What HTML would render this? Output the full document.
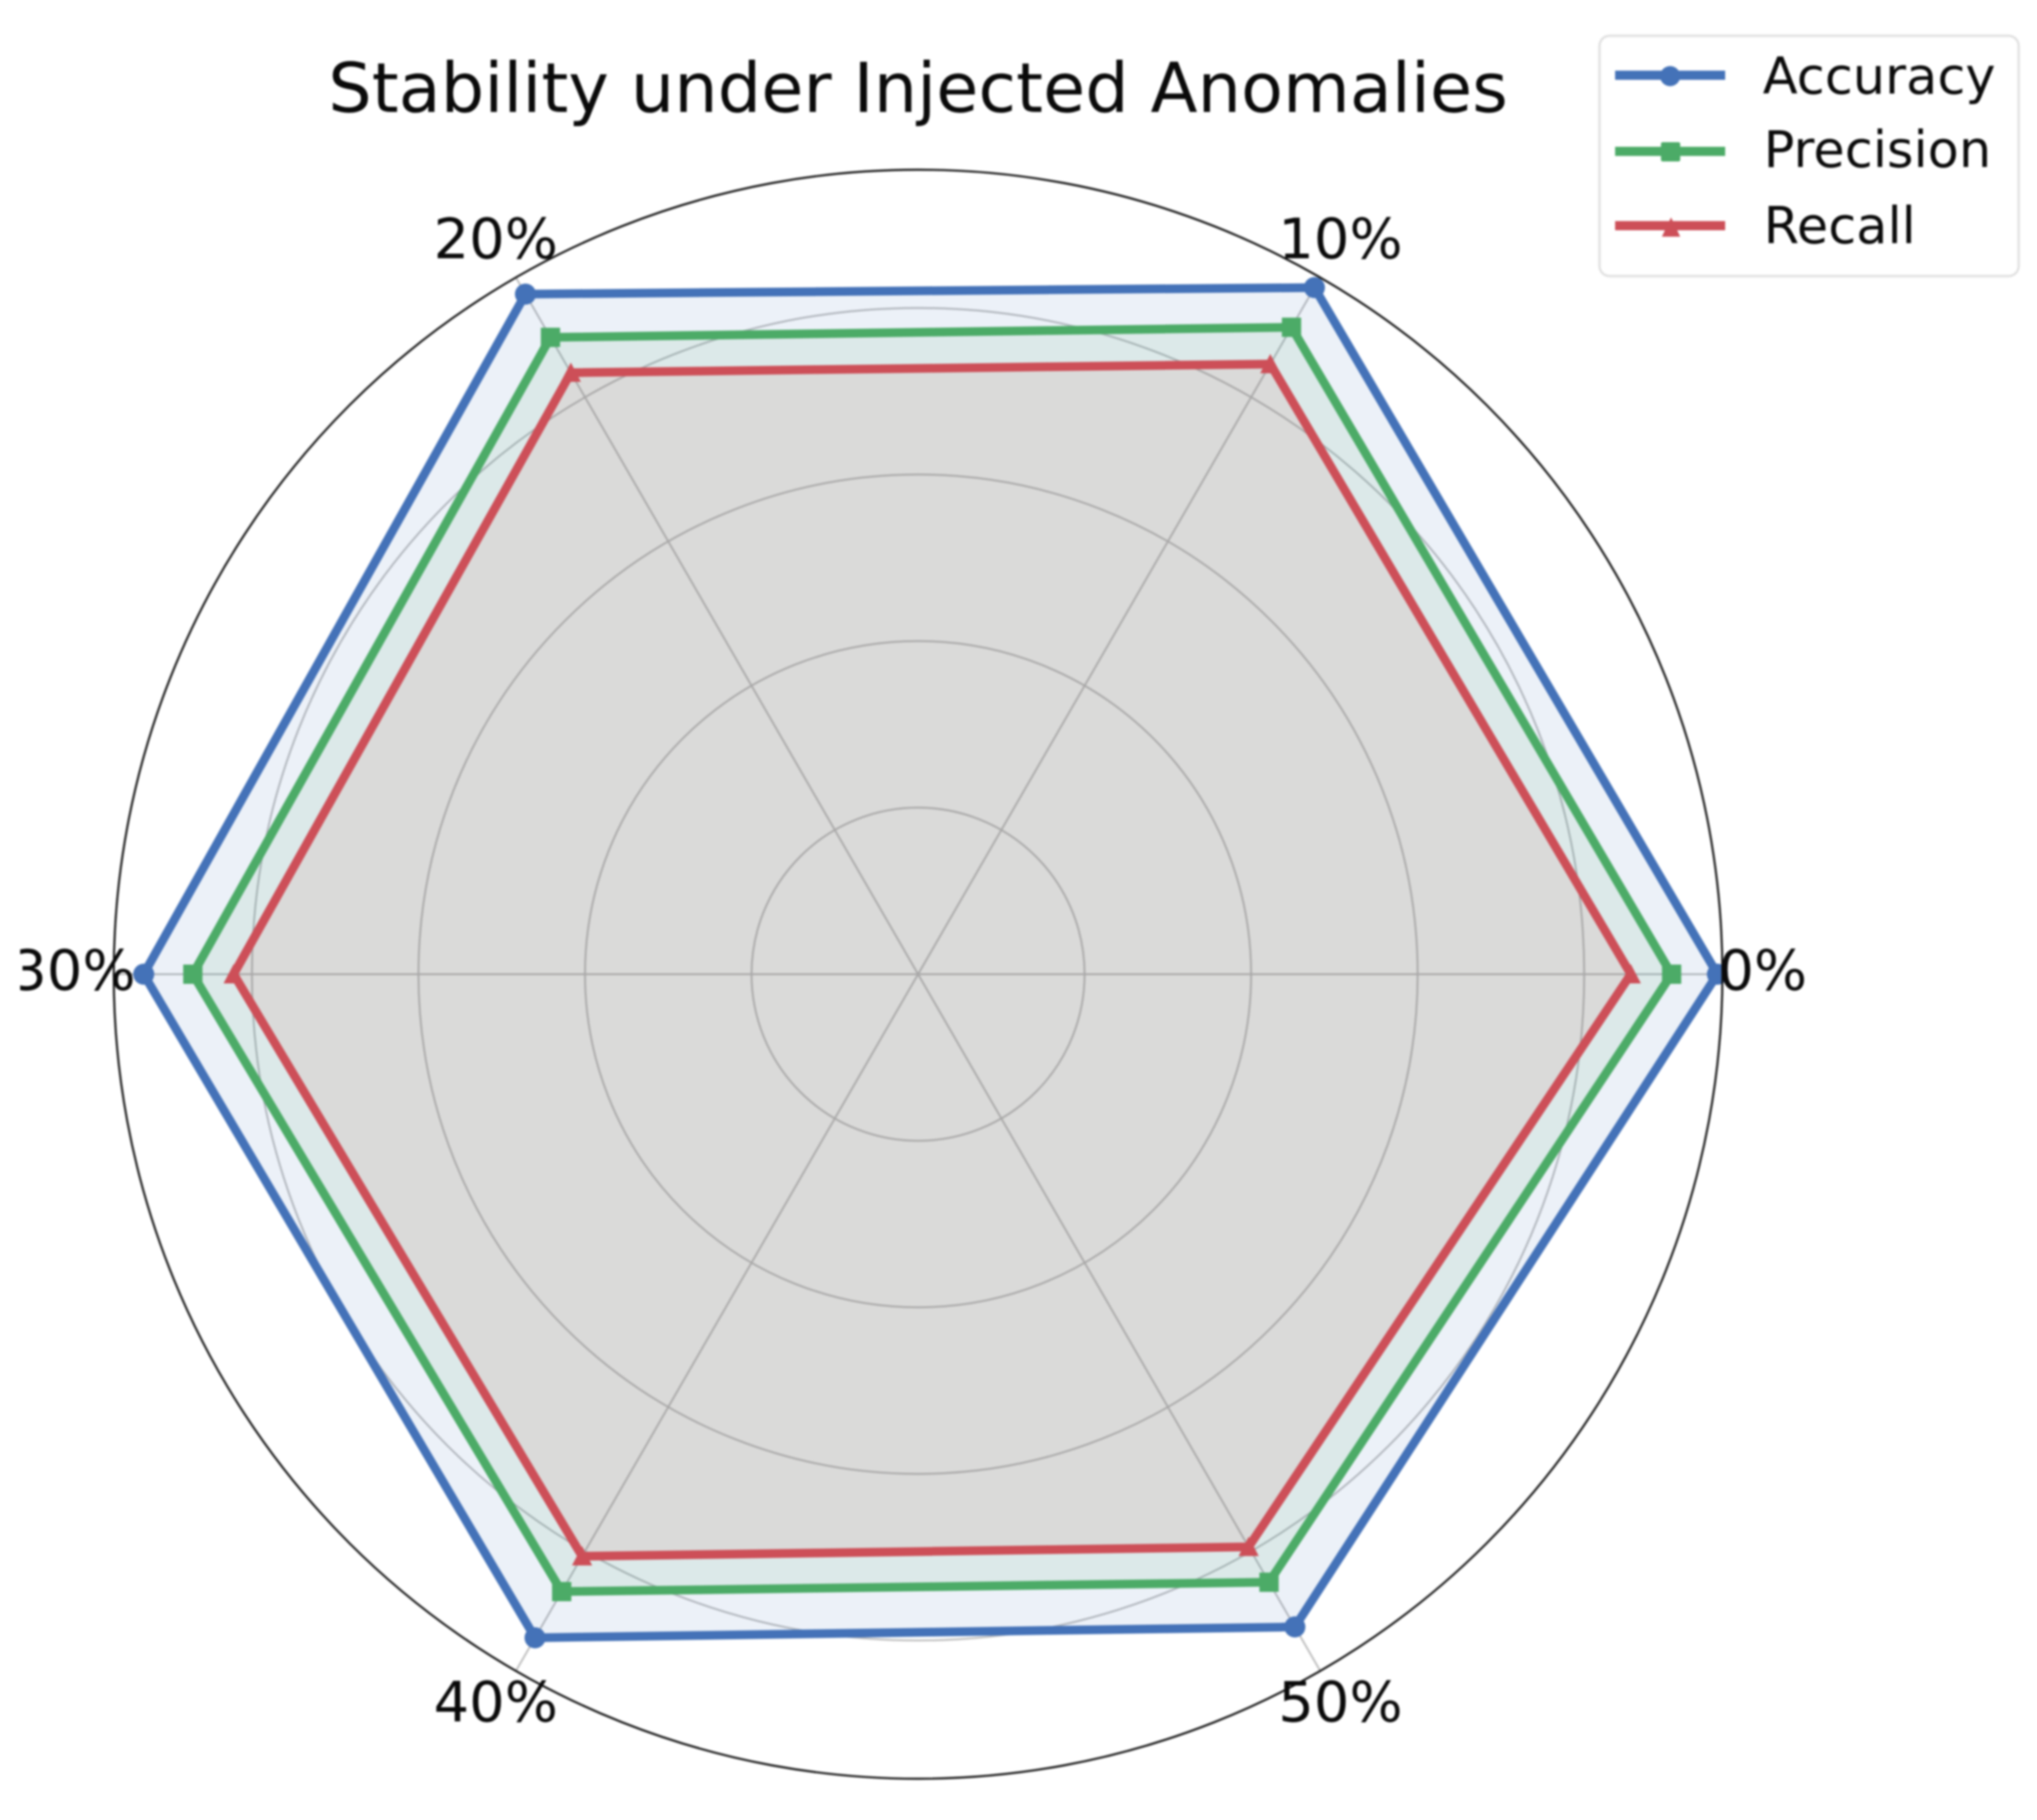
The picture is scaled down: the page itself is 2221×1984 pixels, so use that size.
<!DOCTYPE html>
<html>
<head>
<meta charset="utf-8">
<title>Stability under Injected Anomalies</title>
<style>
html,body{margin:0;padding:0;background:#fff;}
svg{display:block;filter:blur(0.95px);}
text{font-family:"DejaVu Sans",sans-serif;fill:#0a0a0a;}
</style>
</head>
<body>
<svg id="chart" xmlns="http://www.w3.org/2000/svg" width="2221" height="1984" viewBox="0 0 2221 1984">
  <rect width="2221" height="1984" fill="#fff"/>
  <g id="grid"></g>
  <g id="series"></g>
  <circle cx="1001" cy="1062" r="877" fill="none" stroke="#111" stroke-width="2.2"/>
  <g id="labels"></g>
  <rect x="0" y="1000" width="22" height="120" fill="#fff"/>
  <text x="1001" y="122" text-anchor="middle" font-size="74.8">Stability under Injected Anomalies</text>
  <g>
    <rect x="1744" y="39" width="457" height="262" rx="11" fill="#fff" stroke="#e0e0e0" stroke-width="2.5"/>
    <g>
      <line x1="1761" x2="1881" y1="82" y2="82" stroke="#4472b8" stroke-width="10"/>
      <circle cx="1821" cy="83" r="11" fill="#4472b8"/>
      <text x="1922" y="102" font-size="55.6">Accuracy</text>
    </g>
    <g>
      <line x1="1761" x2="1881" y1="165" y2="165" stroke="#4cab67" stroke-width="10"/>
      <rect x="1811" y="155" width="21" height="21" rx="2" fill="#4cab67"/>
      <text x="1923" y="182" font-size="55.6">Precision</text>
    </g>
    <g>
      <line x1="1761" x2="1881" y1="246" y2="246" stroke="#cd4f58" stroke-width="10"/>
      <polygon points="1822,237 1832,258 1812,258" fill="#cd4f58"/>
      <text x="1923" y="265" font-size="55.6">Recall</text>
    </g>
  </g>
</svg>
<script>
const categories = ['0%', '10%', '20%', '30%', '40%', '50%'];
const radialTicks = [0.2, 0.4, 0.6, 0.8];
const accuracyValues = [0.960, 0.952, 0.943, 0.930, 0.920, 0.905];
const precisionValues = [0.905, 0.897, 0.883, 0.871, 0.856, 0.843];
const recallValues = [0.856, 0.846, 0.834, 0.822, 0.807, 0.794];

const NS = 'http://www.w3.org/2000/svg';
const cx = 1001, cy = 1062, outerR = 877, rMax = 0.966, labelR = 921;

function rScale(v) { return v / rMax * outerR; }
function thetaScale(i) { return i * 2 * Math.PI / categories.length; }
function px(i, v) { return cx + rScale(v) * Math.cos(thetaScale(i)); }
function py(i, v) { return cy - rScale(v) * Math.sin(thetaScale(i)); }

const gridG = document.getElementById('grid');
radialTicks.forEach(function (t) {
  const c = document.createElementNS(NS, 'circle');
  
  
  c.setAttribute('cx', cx);
  c.setAttribute('cy', cy);
  c.setAttribute('r', rScale(t));
  c.setAttribute('fill', 'none');
  c.setAttribute('stroke', '#bcbcbc');
  c.setAttribute('stroke-width', '2');
  gridG.appendChild(c);
});
categories.forEach(function (cat, i) {
  const l = document.createElementNS(NS, 'line');
  
  
  l.setAttribute('x1', cx);
  l.setAttribute('y1', cy);
  l.setAttribute('x2', px(i, rMax));
  l.setAttribute('y2', py(i, rMax));
  l.setAttribute('stroke', '#bcbcbc');
  l.setAttribute('stroke-width', '2');
  gridG.appendChild(l);
});

const seriesG = document.getElementById('series');
function drawSeries(name, values, color) {
  const pts = values.map(function (v, i) { return px(i, v).toFixed(2) + ',' + py(i, v).toFixed(2); }).join(' ');
  const fill = document.createElementNS(NS, 'polygon');
  
  
  fill.setAttribute('points', pts);
  fill.setAttribute('fill', color);
  fill.setAttribute('fill-opacity', '0.1');
  seriesG.appendChild(fill);
}
function drawSeriesLine(name, values, color, marker) {
  const pts = values.map(function (v, i) { return px(i, v).toFixed(2) + ',' + py(i, v).toFixed(2); }).join(' ');
  const line = document.createElementNS(NS, 'polygon');
  
  
  line.setAttribute('points', pts);
  line.setAttribute('fill', 'none');
  line.setAttribute('stroke', color);
  line.setAttribute('stroke-width', '9.5');
  line.setAttribute('stroke-linejoin', 'round');
  seriesG.appendChild(line);
  values.forEach(function (v, i) {
    const x = px(i, v), y = py(i, v);
    let m;
    if (marker === 'circle') {
      m = document.createElementNS(NS, 'circle');
      m.setAttribute('cx', x);
      m.setAttribute('cy', y);
      m.setAttribute('r', 11.5);
    } else if (marker === 'square') {
      m = document.createElementNS(NS, 'rect');
      m.setAttribute('x', x - 10.5);
      m.setAttribute('y', y - 10.5);
      m.setAttribute('width', 21);
      m.setAttribute('height', 21);
    } else {
      m = document.createElementNS(NS, 'polygon');
      m.setAttribute('points', x + ',' + (y - 11) + ' ' + (x + 11) + ',' + (y + 10) + ' ' + (x - 11) + ',' + (y + 10));
    }
    
    
    m.setAttribute('fill', color);
    seriesG.appendChild(m);
  });
}
drawSeries('accuracy', accuracyValues, '#4472b8');
drawSeries('precision', precisionValues, '#4cab67');
drawSeries('recall', recallValues, '#cf5a4e');
drawSeriesLine('accuracy', accuracyValues, '#4472b8', 'circle');
drawSeriesLine('precision', precisionValues, '#4cab67', 'square');
drawSeriesLine('recall', recallValues, '#cd4f58', 'triangle');

const labelsG = document.getElementById('labels');
categories.forEach(function (cat, i) {
  const t = document.createElementNS(NS, 'text');
  
  
  t.setAttribute('x', cx + labelR * Math.cos(thetaScale(i)));
  t.setAttribute('y', cy - labelR * Math.sin(thetaScale(i)) + 17);
  t.setAttribute('text-anchor', 'middle');
  t.setAttribute('font-size', '61');
  t.textContent = cat;
  labelsG.appendChild(t);
});
</script>
</body>
</html>
